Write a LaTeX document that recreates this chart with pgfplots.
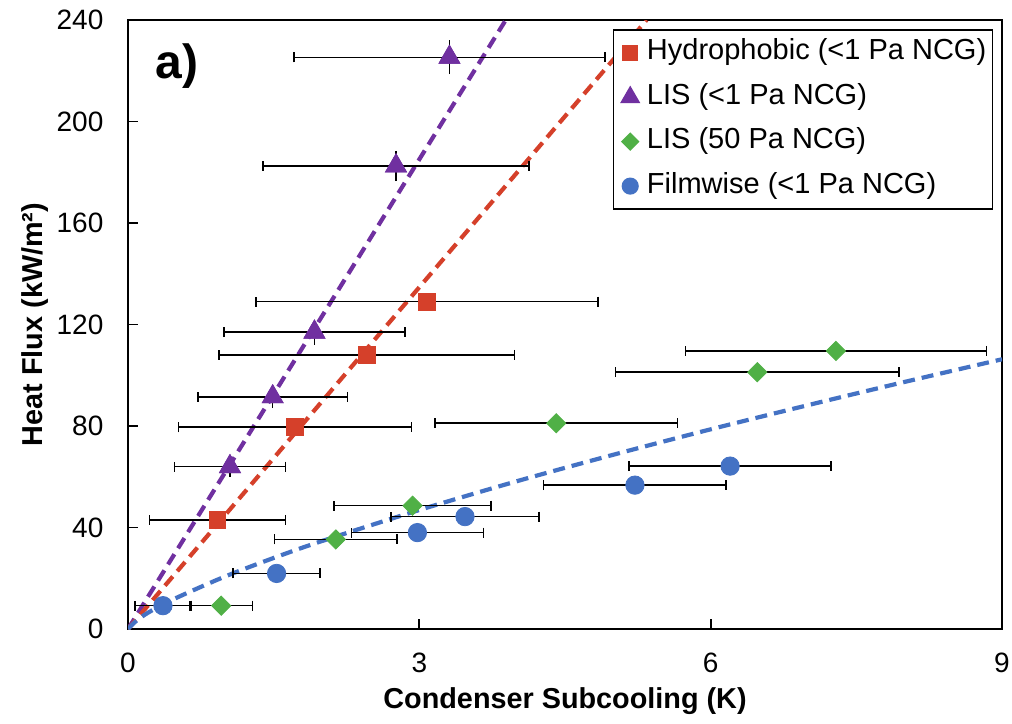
\documentclass[border=0pt]{standalone}
\usepackage{fontspec}
\setmainfont{Liberation Sans}
\usepackage{pgfplots}
\usepackage{pgfplotstable}
\pgfplotsset{compat=1.18}
\usetikzlibrary{calc}
\definecolor{cred}{RGB}{213,64,42}
\definecolor{cpurple}{RGB}{112,48,160}
\definecolor{cgreen}{RGB}{80,176,70}
\definecolor{cblue}{RGB}{68,114,196}

\pgfplotstableread{
x y ex
0.92 43 0.70
1.72 79.5 1.20
2.46 108 1.52
3.08 129 1.76
}\hydro
\pgfplotstableread{
x y ex ey
1.05 64 0.57 2
1.49 91.5 0.77 2.5
1.92 117 0.93 3
2.76 182.5 1.37 4
3.31 225.3 1.60 4.7
}\lislow
\pgfplotstableread{
x y ex
0.96 9.2 0.32
2.14 35.3 0.63
2.93 48.6 0.81
4.41 81.1 1.25
6.48 101.2 1.46
7.29 109.6 1.55
}\lisfifty
\pgfplotstableread{
x y ex
0.36 9.2 0.29
1.53 21.9 0.45
2.98 38 0.68
3.47 44.3 0.76
5.22 56.7 0.94
6.20 64.2 1.04
}\film

\begin{document}
\begin{tikzpicture}
\begin{axis}[
  name=ax,
  scale only axis,
  width=437pt, height=304.5pt,
  xmin=0, xmax=9, ymin=0, ymax=240,
  xtick={0,3,6,9}, ytick={0,40,80,120,160,200,240},
  minor tick num=0,
  tick align=inside, tick pos=left,
  major tick length=5pt,
  every tick/.style={black, line width=0.85pt},
  axis line style={black, line width=0.85pt},
  /pgf/number format/assume math mode=true,
  tick label style={font=\fontsize{14}{17}\selectfont},
  yticklabel style={xshift=-8.8pt},
  xticklabel style={yshift=-8.3pt},
  xlabel={\bfseries Condenser Subcooling (K)},
  ylabel={\bfseries Heat Flux (kW/m²)},
  xlabel style={at={(axis description cs:0.5,-0.118)}, anchor=center, font=\fontsize{14.4}{17}\selectfont},
  ylabel style={at={(axis description cs:-0.1064,0.5)}, anchor=center, font=\fontsize{14.4}{17}\selectfont},
  clip=true,
  legend style={
    at={(rel axis cs:0.9897,0.985)}, anchor=north east,
    draw=black, line width=0.75pt, fill=white,
    font=\fontsize{14.5}{17}\selectfont,
    inner xsep=2pt, inner ysep=2.5pt,
    row sep=4.2pt,
    nodes={inner xsep=1pt, inner ysep=2pt, text height=10.5pt, text depth=3.5pt},
  },
  legend cell align=left,
  legend image code/.code={\draw[mark repeat=2,mark phase=2,#1] plot coordinates {(0pt,0pt) (6pt,0pt) (12pt,0pt)};\path (0pt,0pt) (13pt,0pt);},
  legend image post style={/tikz/every mark/.append style={scale=0.85}},
  error bars/error bar style={black, line width=0.8pt, solid},
]
% trend lines
\addplot[forget plot, cpurple, line width=2.1pt, dash pattern=on 6pt off 3.5pt] coordinates {(0,0) (1,61.7) (2,123.4) (3,185.1) (3.89,240)};
\addplot[forget plot, cred, line width=2.1pt, dash pattern=on 6pt off 3.5pt] coordinates {(0,0) (1,44.9) (2,89.8) (3,134.7) (4,179.6) (5,224.5) (5.34,240)};
\addplot[forget plot, cblue, line width=2.1pt, dash pattern=on 6pt off 3.5pt, smooth] coordinates {(0,0) (0.1,3.7) (0.25,7.4) (0.5,12.3) (1,20.7) (1.5,28.0) (2,34.7) (3,46.9) (4,58.2) (5,68.7) (6,78.7) (7,88.2) (8,97.4) (9,106.3)};

% vertical error bars of the LIS (<1 Pa NCG) points
\addplot[forget plot, only marks, mark=triangle*, mark size=6pt, mark options={fill=cpurple, draw=cpurple},
  error bars/.cd, y dir=both, y explicit,
  error mark options={black, line width=0.8pt, mark size=2.5pt, solid}]
  table[x=x, y=y, y error=ey] {\lislow};

\addplot[only marks, mark=square*, mark size=4.2pt, mark options={fill=cred, draw=cred},
  error bars/.cd, x dir=both, x explicit,
  error mark options={black, line width=0.8pt, mark size=2.5pt, solid, rotate=90}]
  table[x=x, y=y, x error=ex] {\hydro};
\addlegendentry{Hydrophobic (<1 Pa NCG)}

\addplot[only marks, mark=triangle*, mark size=6pt, mark options={fill=cpurple, draw=cpurple},
  error bars/.cd, x dir=both, x explicit,
  error mark options={black, line width=0.8pt, mark size=2.5pt, solid, rotate=90}]
  table[x=x, y=y, x error=ex] {\lislow};
\addlegendentry{LIS (<1 Pa NCG)}

\addplot[only marks, mark=square*, mark size=3.4pt, mark options={fill=cgreen, draw=cgreen, rotate=45},
  error bars/.cd, x dir=both, x explicit,
  error mark options={black, line width=0.8pt, mark size=2.5pt, solid, rotate=90}]
  table[x=x, y=y, x error=ex] {\lisfifty};
\addlegendentry{LIS (50 Pa NCG)}

\addplot[only marks, mark=*, mark size=4.6pt, mark options={fill=cblue, draw=cblue},
  error bars/.cd, x dir=both, x explicit,
  error mark options={black, line width=0.8pt, mark size=2.5pt, solid, rotate=90}]
  table[x=x, y=y, x error=ex] {\film};
\addlegendentry{Filmwise (<1 Pa NCG)}

\node[font=\bfseries\fontsize{24}{28}\selectfont, anchor=base, inner sep=0pt] at (axis description cs:0.056,0.9043) {a)};
\end{axis}
\pgfresetboundingbox
\path ($(ax.south west)+(-64pt,-47pt)$) rectangle ($(ax.north east)+(5pt,10pt)$);
\end{tikzpicture}
\end{document}
